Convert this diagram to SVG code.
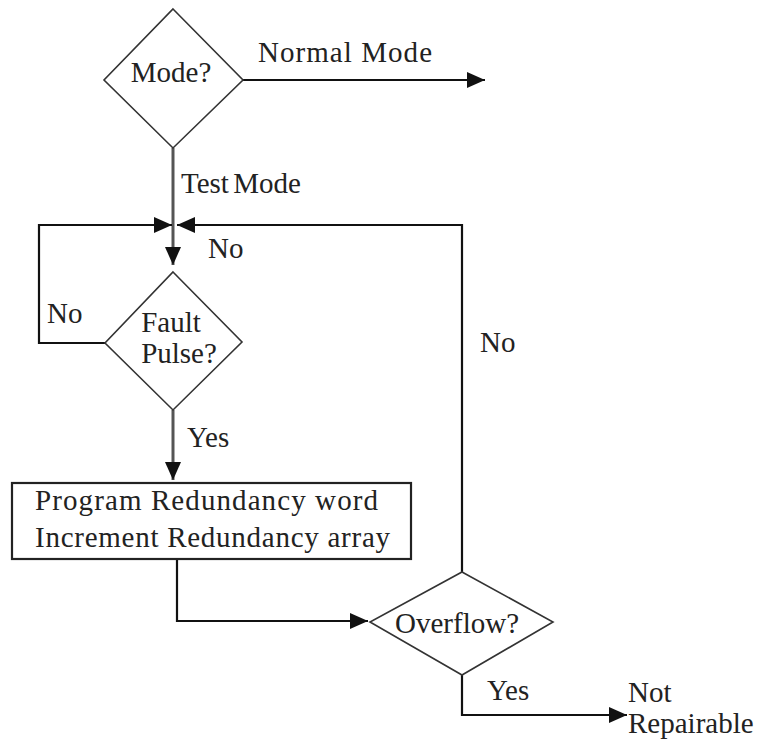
<svg xmlns="http://www.w3.org/2000/svg" width="759" height="740" viewBox="0 0 759 740">
<style>
text{font-family:'Liberation Serif',serif;font-size:29px;fill:#222}
.shape{fill:none;stroke:#333;stroke-width:1.6}
.box{fill:#fff;stroke:#222;stroke-width:2.2}
.conn path{fill:none;stroke:#111;stroke-width:2.2}
.conn path.grey{stroke:#555;stroke-width:3}
</style>
<defs>
<marker id="arr" markerUnits="userSpaceOnUse" markerWidth="18" markerHeight="16" refX="18" refY="8" orient="auto">
<path d="M0,0 L18,8 L0,16 Z" fill="#111"/>
</marker>
</defs>
<rect width="759" height="740" fill="#fff"/>
<g class="conn" id="connectors">
<path d="M243,80 L485,80" marker-end="url(#arr)"/>
<path class="grey" d="M173,148 L173,265" marker-end="url(#arr)"/>
<path d="M105,343 L39,343 L39,225 L172,225" marker-end="url(#arr)"/>
<path d="M462,572 L462,225 L177,225" marker-end="url(#arr)"/>
<path class="grey" d="M173,410 L173,480" marker-end="url(#arr)"/>
<path d="M177,559 L177,621 L368,621" marker-end="url(#arr)"/>
<path d="M462,675 L462,715 L627,715" marker-end="url(#arr)"/>
</g>
<g id="labels">
<text x="258" y="62" textLength="174">Normal Mode</text>
<text x="181" y="193" word-spacing="-3">Test Mode</text>
<text x="208" y="258">No</text>
<text x="47" y="323">No</text>
<text x="480" y="352">No</text>
<text x="187" y="447">Yes</text>
<text x="487" y="700">Yes</text>
</g>
<g id="mode">
<polygon class="shape" points="173,9 243,80 173,148 104,80"/>
<text x="171" y="82" text-anchor="middle">Mode?</text>
</g>
<g id="fault">
<polygon class="shape" points="173,272 242,342 173,410 105,343"/>
<text x="171" y="332" text-anchor="middle">Fault</text>
<text x="179" y="363" text-anchor="middle">Pulse?</text>
</g>
<g id="program">
<rect class="box" x="12" y="483" width="399" height="76"/>
<text x="35" y="510" textLength="343">Program Redundancy word</text>
<text x="35" y="547" textLength="355">Increment Redundancy array</text>
</g>
<g id="overflow">
<polygon class="shape" points="462,572 553,622 462,675 370,622"/>
<text x="395" y="633">Overflow?</text>
</g>
<g id="notrepairable">
<text x="628" y="702">Not</text>
<text x="628" y="733" font-size="28">Repairable</text>
</g>
</svg>
